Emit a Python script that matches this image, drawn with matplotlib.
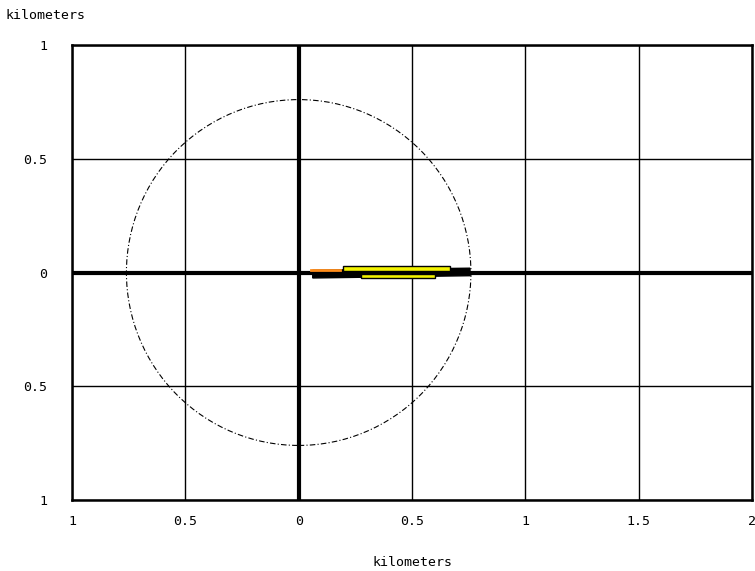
import matplotlib
matplotlib.use("Agg")
import matplotlib.pyplot as plt
from matplotlib.patches import Circle, Polygon, Rectangle
from matplotlib import rcParams
rcParams['font.family'] = 'monospace'
rcParams['font.monospace'] = ['DejaVu Sans Mono']

# axis ticks and their printed labels (no minus signs in the original)
x_ticks = [-1, -0.5, 0, 0.5, 1, 1.5, 2]
x_tick_labels = ["1", "0.5", "0", "0.5", "1", "1.5", "2"]
y_ticks = [-1, -0.5, 0, 0.5, 1]
y_tick_labels = ["1", "0.5", "0", "0.5", "1"]

# range circle
circle_radius = 0.76

# black outline shape (x, y) in km
black_x = [0.062, 0.756, 0.756, 0.062]
black_y = [0.010, 0.019, -0.014, -0.024]

# orange segment
orange_x = [0.056, 0.182]
orange_y = [0.009, 0.009]

# yellow boxes: x0, x1, y0, y1
yellow_boxes = [
    (0.196, 0.667, 0.007, 0.027),
    (0.275, 0.601, -0.026, -0.007),
]

fig = plt.figure(figsize=(7.55, 5.71), dpi=100)
ax = fig.add_axes([0.0954, 0.1243, 0.9006, 0.7969])
ax.set_xlim(-1, 2)
ax.set_ylim(-1, 1)

ax.set_xticks(x_ticks)
ax.set_xticklabels(x_tick_labels)
ax.set_yticks(y_ticks)
ax.set_yticklabels(y_tick_labels)
ax.tick_params(length=0, labelsize=9.5)
ax.tick_params(axis='x', pad=11)
ax.tick_params(axis='y', pad=18)
ax.grid(True, color='black', linewidth=1)
for s in ax.spines.values():
    s.set_linewidth(1.8)
ax.axhline(0, color='black', linewidth=3, zorder=2)
ax.axvline(0, color='black', linewidth=3, zorder=2)

ax.add_patch(Circle((0, 0), circle_radius, fill=False, edgecolor='black',
                    linewidth=0.8, linestyle=(0, (5, 2, 1, 2)), zorder=3))

ax.add_patch(Polygon(list(zip(black_x, black_y)), closed=True,
                     facecolor='black', edgecolor='black', linewidth=1, zorder=4))
ax.plot(orange_x, orange_y, color='#ff8c1a', linewidth=2, zorder=5)
for x0, x1, y0, y1 in yellow_boxes:
    ax.add_patch(Rectangle((x0, y0), x1 - x0, y1 - y0, facecolor='#f2f200',
                           edgecolor='black', linewidth=1, zorder=6))

ax.set_xlabel("kilometers", fontsize=9.5, labelpad=20)
fig.text(0.007, 0.972, "kilometers", fontsize=9.5, ha='left', va='center')

plt.savefig('out.png', dpi=100)
plt.close()
